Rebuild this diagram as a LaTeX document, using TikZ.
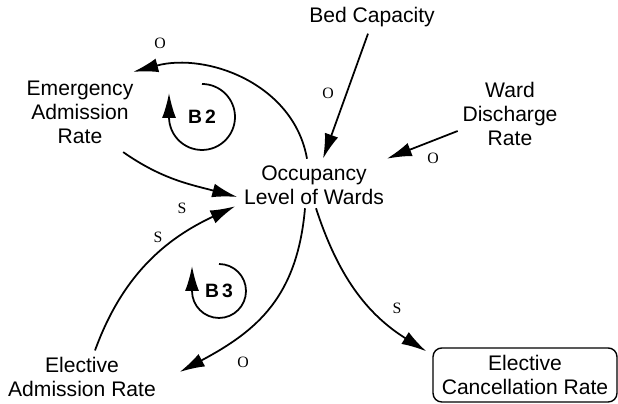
\documentclass[tikz,border=0pt]{standalone}
\usepackage{fontspec}
\setsansfont{Liberation Sans}
\newfontfamily\polfont{Liberation Serif}
\usetikzlibrary{arrows.meta,calc}
\tikzset{
  var/.style      = {align=center,inner sep=2pt,
                     font=\sffamily\fontsize{12}{13.6}\selectfont},
  ratebox/.style  = {var,draw,rounded corners=5pt,line width=0.8pt,
                     minimum width=3.68cm,minimum height=1.08cm},
  link/.style     = {-{Latex[length=5mm,width=2.8mm]},line width=1pt},
  pol/.style      = {font=\polfont\fontsize{9}{9}\selectfont,inner sep=1pt},
  loopname/.style = {font=\sffamily\bfseries\fontsize{11}{11}\selectfont},
}

\begin{document}
\begin{tikzpicture}[x=0.02cm,y=0.02cm]
  \useasboundingbox (0,0) rectangle (618,404);
  % variables
  \node[var] (bed)     at (372,387) {Bed Capacity};
  \node[var] (emerg)   at (80,292)  {Emergency\\Admission\\Rate};
  \node[var] (ward)    at (510,290) {Ward\\Discharge\\Rate};
  \node[var] (occ)     at (314,219) {Occupancy\\Level of Wards};
  \node[var] (elecadm) at (82,27)   {Elective\\Admission Rate};
  \node[ratebox] (cancel) at (525,29) {Elective\\Cancellation Rate};
  % links
  \draw[link] ($(occ.north)+(-7,3)$) to[out=100,in=15]
    ($(emerg.north east)+(-4,5)$);
  \draw[link] ($(bed.south)+(-4,-3)$) -- ($(occ.north)+(9,3)$);
  \draw[link] ($(ward.west)+(-1,-17)$) -- ($(occ.north east)+(-1,3)$);
  \draw[link] ($(emerg.south east)+(-14,-5)$) to[out=-35,in=165]
    ($(occ.west)+(-3,-12)$);
  \draw[link] ($(elecadm.north)+(13,3)$) to[out=70,in=205]
    ($(occ.south west)+(-5,2)$);
  \draw[link] ($(occ.south)+(-9,0)$) to[out=-95,in=28,looseness=1.1]
    ($(elecadm.east)+(20,5)$);
  \draw[link] ($(occ.south)+(2,0)$) to[out=-72,in=148]
    ($(cancel.north west)+(-6,-4)$);
  % polarities
  \node[pol] (p1) at (160,361) {O};
  \node[pol] (p2) at (328,311) {O};
  \node[pol] (p3) at (433,246) {O};
  \node[pol] (p4) at (182,196) {S};
  \node[pol] (p5) at (158,167) {S};
  \node[pol] (p6) at (243,42)  {O};
  \node[pol] (p7) at (397,96)  {S};
  % loops
  \node[loopname] (b2) at (202,287) {B\,2};
  \draw[link] ($(b2)+(0,33)$) arc[start angle=90,end angle=-180,radius=0.66cm]
    -- ++(0,24);
  \node[loopname] (b3) at (219,113) {B\,3};
  \draw[link] ($(b3)+(0,27)$) arc[start angle=90,end angle=-180,radius=0.54cm]
    -- ++(0,25);
\end{tikzpicture}
\end{document}
